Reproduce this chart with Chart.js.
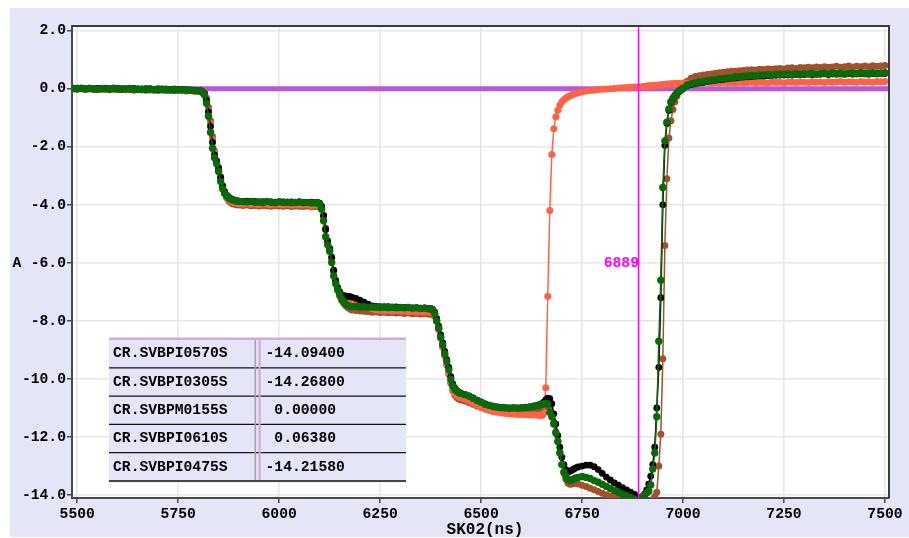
<!DOCTYPE html>
<html><head><meta charset="utf-8">
<script src="https://cdn.jsdelivr.net/npm/chart.js@4/dist/chart.umd.min.js"></script>
<style>html,body{margin:0;padding:0;background:#fff;overflow:hidden}canvas{display:block}</style>
</head><body>
<canvas id="c" width="909" height="538"></canvas>
<script>
// ---- sample times (ns) ----
const times = [
 5490,5500,5510,5520,5530,5540,5550,5560,5570,5580,5590,5600,5610,5620,5630,5640,5650,5660,5670,5680,5690,5700,5710,5720,5730,5740,5750,5760,5770,5780,5790,5800,
 5805,5810,5815,5820,5825,5830,5835,5840,5845,5850,5855,5860,5865,5870,5875,5880,5885,5890,5895,5900,
 5910,5920,5930,5940,5950,5960,5970,5980,5990,6000,6010,6020,6030,6040,6050,6060,6070,6080,6090,
 6095,6100,6105,6110,6115,6120,6125,6130,6135,6140,6145,6150,6155,6160,6165,6170,6175,6180,
 6190,6200,6210,6220,6230,6240,6250,6260,6270,6280,6290,6300,6310,6320,6330,6340,6350,6360,6370,
 6375,6380,6385,6390,6395,6400,6405,6410,6415,6420,6425,6430,6435,6440,6445,6450,
 6460,6470,6480,6490,6500,6510,6520,6530,6540,6550,6560,6570,6580,6590,6600,6610,6620,6630,6640,
 6645,6650,6655,6660,6665,6670,6675,6680,6685,6690,6695,6700,6705,6710,6715,6720,6725,6730,6735,6740,
 6750,6760,6770,6780,6790,6800,6810,6820,6830,6840,6850,6860,6870,6880,6890,6900,
 6905,6910,6915,6920,6925,6930,6935,6940,6945,6950,6955,6960,6965,6970,6975,6980,6985,6990,6995,7000,
 7010,7020,7030,7040,7050,7060,7070,7080,7090,7100,7110,7120,7130,7140,7150,7160,7170,7180,7190,7200,
 7210,7220,7230,7240,7250,7260,7270,7280,7290,7300,7310,7320,7330,7340,7350,7360,7370,7380,7390,7400,
 7410,7420,7430,7440,7450,7460,7470,7480,7490,7500
];

// ---- series (A) ----
const black0570 = [
 0.0,0.02,0.01,0.0,0.02,-0.01,0.01,0.0,0.02,-0.01, 0.0,0.01,-0.02,0.0,-0.01,0.01,-0.02,-0.01,-0.02,0.0, -0.02,-0.03,-0.01,-0.03,-0.02,-0.04,-0.02,-0.04,-0.03,-0.05, -0.05,-0.06,
 -0.07,-0.1,-0.17,-0.4,-0.8,-1.3,-1.85,-2.28,-2.5,-2.72,-3.05,-3.35,-3.55,-3.67,-3.74,-3.79,-3.82,-3.84,-3.86,-3.87,
 -3.88,-3.87,-3.89,-3.88,-3.9,-3.89,-3.88,-3.9,-3.91,-3.89,-3.9,-3.91,-3.9,-3.92,-3.9,-3.91,-3.92,-3.91,-3.92,
 -3.92,-3.94,-4.05,-4.38,-4.85,-5.25,-5.5,-5.8,-6.25,-6.6,-6.85,-7.0,-7.1,-7.13,-7.15,-7.15,-7.16,-7.18,
 -7.22,-7.28,-7.35,-7.42,-7.48,-7.5,-7.51,-7.52,-7.51,-7.53,-7.52,-7.54,-7.53,-7.54,-7.55,-7.54,-7.56,-7.55,-7.57,
 -7.57,-7.6,-7.7,-7.92,-8.18,-8.48,-8.76,-9.05,-9.33,-9.6,-9.92,-10.18,-10.32,-10.4,-10.45,-10.49,
 -10.53,-10.58,-10.65,-10.73,-10.79,-10.86,-10.9,-10.94,-10.96,-10.98,-10.99,-11.0,-10.99,-11.0,-10.99,-10.97,-10.96,-10.93,-10.9,
 -10.88,-10.85,-10.8,-10.72,-10.66,-10.68,-10.85,-11.2,-11.55,-11.95,-12.35,-12.7,-12.95,-13.12,-13.2,-13.18,-13.14,-13.1,-13.06,-13.03,
 -13.0,-12.97,-12.97,-13.02,-13.12,-13.25,-13.38,-13.48,-13.58,-13.66,-13.74,-13.82,-13.9,-13.98,-14.09,-14.05,
 -13.96,-13.82,-13.62,-13.35,-12.95,-12.35,-11.0,-9.6,-7.2,-4.0,-1.95,-1.2,-0.75,-0.48,-0.36,-0.25,-0.16,-0.1,-0.05,0.0,
 0.1,0.14,0.17,0.2,0.22,0.25,0.27,0.29,0.31,0.32, 0.34,0.36,0.37,0.39,0.4,0.41,0.42,0.43,0.44,0.44,
 0.45,0.46,0.46,0.47,0.47,0.48,0.47,0.49,0.48,0.49, 0.5,0.49,0.5,0.5,0.51,0.49,0.51,0.5,0.51,0.5,
 0.52,0.5,0.51,0.52,0.51,0.5,0.52,0.51,0.52,0.52
];
const brown0305 = [
 -0.01,-0.02,0.0,-0.03,-0.01,-0.02,0.0,-0.03,-0.02,-0.04, -0.01,-0.03,-0.02,-0.04,-0.03,-0.05,-0.02,-0.04,-0.05,-0.03, -0.05,-0.06,-0.04,-0.06,-0.05,-0.07,-0.06,-0.07,-0.08,-0.07, -0.09,-0.1,
 -0.1,-0.12,-0.16,-0.32,-0.65,-1.1,-1.65,-2.15,-2.5,-2.78,-3.08,-3.38,-3.6,-3.76,-3.86,-3.92,-3.96,-3.98,-4.0,-4.01,
 -4.02,-4.01,-4.03,-4.02,-4.04,-4.02,-4.03,-4.05,-4.03,-4.04,-4.05,-4.03,-4.06,-4.04,-4.05,-4.06,-4.04,-4.07,-4.06,
 -4.06,-4.07,-4.12,-4.35,-4.8,-5.25,-5.55,-5.85,-6.3,-6.68,-6.95,-7.15,-7.3,-7.4,-7.48,-7.54,-7.58,-7.62,
 -7.64,-7.66,-7.67,-7.68,-7.7,-7.69,-7.71,-7.7,-7.72,-7.71,-7.73,-7.72,-7.74,-7.73,-7.75,-7.74,-7.76,-7.75,-7.76,
 -7.77,-7.78,-7.84,-8.0,-8.28,-8.58,-8.9,-9.2,-9.52,-9.83,-10.15,-10.4,-10.56,-10.64,-10.69,-10.72,
 -10.76,-10.81,-10.87,-10.93,-10.98,-11.03,-11.07,-11.1,-11.12,-11.13,-11.14,-11.15,-11.14,-11.15,-11.14,-11.12,-11.1,-11.08,-11.05,
 -11.03,-11.0,-10.97,-10.95,-10.95,-11.0,-11.2,-11.5,-11.82,-12.15,-12.55,-12.95,-13.25,-13.45,-13.58,-13.63,-13.62,-13.6,-13.6,-13.62,
 -13.66,-13.7,-13.76,-13.82,-13.88,-13.94,-13.99,-14.03,-14.08,-14.12,-14.16,-14.2,-14.23,-14.25,-14.27,-14.28,
 -14.28,-14.27,-14.25,-14.2,-14.15,-14.05,-13.9,-13.0,-11.9,-9.3,-5.4,-3.1,-1.7,-1.1,-0.72,-0.45,-0.25,-0.1,0.02,0.12,
 0.26,0.36,0.42,0.45,0.47,0.49,0.51,0.53,0.55,0.57, 0.58,0.6,0.6,0.62,0.63,0.64,0.65,0.64,0.67,0.66,
 0.68,0.67,0.69,0.7,0.68,0.71,0.72,0.7,0.73,0.72, 0.74,0.72,0.75,0.73,0.76,0.74,0.75,0.77,0.74,0.76,
 0.78,0.75,0.77,0.76,0.78,0.76,0.79,0.77,0.78,0.8
];
const purpleTimes = [5480, 7520];
const purple0155 = [0.0, 0.0];
const orange0610 = [
 0.0,-0.01,0.01,-0.02,0.0,-0.01,-0.03,0.0,-0.02,-0.01, -0.03,0.0,-0.02,-0.04,-0.01,-0.03,-0.02,-0.04,-0.03,-0.05, -0.04,-0.02,-0.05,-0.04,-0.06,-0.04,-0.06,-0.05,-0.07,-0.06, -0.08,-0.09,
 -0.1,-0.12,-0.18,-0.4,-0.75,-1.2,-1.75,-2.2,-2.5,-2.75,-3.05,-3.35,-3.57,-3.72,-3.81,-3.87,-3.9,-3.93,-3.95,-3.96,
 -3.97,-3.96,-3.98,-3.97,-3.99,-3.97,-3.98,-4.0,-3.98,-3.99,-4.0,-3.98,-4.01,-3.99,-4.0,-4.01,-3.99,-4.02,-4.01,
 -4.01,-4.02,-4.1,-4.4,-4.85,-5.3,-5.55,-5.85,-6.3,-6.65,-6.9,-7.05,-7.14,-7.18,-7.2,-7.2,-7.22,-7.25,
 -7.3,-7.37,-7.45,-7.52,-7.58,-7.62,-7.63,-7.65,-7.64,-7.66,-7.65,-7.67,-7.66,-7.68,-7.67,-7.69,-7.68,-7.7,-7.69,
 -7.7,-7.72,-7.8,-8.0,-8.3,-8.6,-8.9,-9.2,-9.5,-9.8,-10.1,-10.35,-10.5,-10.58,-10.62,-10.65,
 -10.7,-10.76,-10.83,-10.9,-10.97,-11.03,-11.08,-11.12,-11.15,-11.17,-11.19,-11.2,-11.21,-11.22,-11.22,-11.23,-11.24,-11.24,-11.25,
 -11.25,-11.26,-11.2,-10.3,-7.15,-4.2,-2.27,-1.38,-0.97,-0.74,-0.57,-0.45,-0.38,-0.32,-0.28,-0.24,-0.21,-0.18,-0.16,-0.14,
 -0.11,-0.08,-0.06,-0.05,-0.03,-0.02,-0.01,0.0,0.01,0.02,0.03,0.04,0.05,0.06,0.064,0.08,
 0.08,0.09,0.1,0.1,0.11,0.12,0.12,0.13,0.14,0.14,0.15,0.16,0.16,0.17,0.17,0.18,0.18,0.19,0.18,0.19,
 0.19,0.2,0.19,0.21,0.2,0.22,0.19,0.21,0.2,0.22, 0.2,0.21,0.19,0.22,0.2,0.21,0.23,0.2,0.22,0.21,
 0.2,0.23,0.21,0.22,0.2,0.23,0.22,0.21,0.23,0.22, 0.21,0.24,0.22,0.23,0.21,0.24,0.22,0.23,0.25,0.22,
 0.24,0.23,0.22,0.25,0.23,0.24,0.22,0.25,0.24,0.25
];
const green0475 = [
 0.01,0.0,0.02,-0.01,0.01,0.0,-0.02,0.01,0.0,-0.01, 0.02,-0.02,0.0,-0.01,0.01,-0.02,-0.01,-0.03,0.0,-0.02, -0.03,-0.01,-0.03,-0.02,-0.04,-0.02,-0.04,-0.03,-0.05,-0.04, -0.06,-0.07,
 -0.08,-0.12,-0.22,-0.5,-0.95,-1.5,-2.05,-2.38,-2.58,-2.85,-3.2,-3.45,-3.6,-3.7,-3.76,-3.8,-3.83,-3.85,-3.87,-3.88,
 -3.89,-3.9,-3.88,-3.91,-3.9,-3.92,-3.89,-3.91,-3.93,-3.9,-3.92,-3.91,-3.93,-3.92,-3.9,-3.93,-3.92,-3.94,-3.93,
 -3.94,-3.97,-4.15,-4.55,-5.1,-5.38,-5.6,-5.99,-6.45,-6.72,-6.92,-7.08,-7.25,-7.34,-7.42,-7.46,-7.49,-7.5,
 -7.5,-7.52,-7.51,-7.53,-7.52,-7.53,-7.54,-7.52,-7.54,-7.53,-7.55,-7.54,-7.55,-7.54,-7.56,-7.55,-7.57,-7.56,-7.58,
 -7.58,-7.62,-7.75,-8.0,-8.25,-8.56,-8.83,-9.12,-9.4,-9.68,-10.02,-10.25,-10.36,-10.42,-10.47,-10.5,
 -10.54,-10.59,-10.66,-10.74,-10.8,-10.87,-10.91,-10.95,-10.97,-10.99,-11.0,-11.01,-11.0,-11.01,-11.0,-10.99,-10.97,-10.95,-10.92,
 -10.9,-10.88,-10.86,-10.84,-10.86,-11.15,-11.3,-11.55,-11.86,-12.15,-12.55,-12.95,-13.2,-13.35,-13.47,-13.5,-13.47,-13.44,-13.41,-13.39,
 -13.36,-13.39,-13.43,-13.5,-13.56,-13.63,-13.7,-13.77,-13.84,-13.9,-13.96,-14.02,-14.08,-14.14,-14.2,-14.05,
 -13.98,-13.93,-13.87,-13.65,-13.1,-12.55,-11.3,-8.7,-6.6,-3.4,-1.8,-1.15,-0.7,-0.45,-0.33,-0.22,-0.14,-0.08,-0.03,0.02,
 0.13,0.17,0.2,0.23,0.25,0.28,0.3,0.31,0.34,0.35, 0.37,0.38,0.41,0.41,0.43,0.44,0.45,0.44,0.47,0.47,
 0.48,0.47,0.5,0.49,0.5,0.51,0.49,0.52,0.5,0.52, 0.51,0.53,0.5,0.52,0.53,0.51,0.54,0.52,0.53,0.51,
 0.54,0.53,0.52,0.55,0.53,0.52,0.55,0.53,0.54,0.55
];

// ---- table / marker / ticks ----
const seriesNames = ['CR.SVBPI0570S','CR.SVBPI0305S','CR.SVBPM0155S','CR.SVBPI0610S','CR.SVBPI0475S'];
const markerValues = [-14.094, -14.268, 0.0, 0.0638, -14.2158];
const markerTime = 6889;
const xTickValues = [5500,5750,6000,6250,6500,6750,7000,7250,7500];
const yTickValues = [2,0,-2,-4,-6,-8,-10,-12,-14];
const xTitle = 'SK02(ns)';
const yTitle = 'A';

const toPts = (ts, vs) => ts.map((t,i)=>({x:t, y:vs[i]}));
const FONT = 'bold 14.7px "Liberation Mono", "DejaVu Sans Mono", monospace';

function series(label, ts, vs, color, order, r, lw){
  return {label, data: toPts(ts, vs), borderColor: color, backgroundColor: color,
    pointBackgroundColor: color, pointBorderWidth: 0, pointRadius: r, borderWidth: lw,
    order, clip: 0, tension: 0};
}

const decor = {
  id: 'decor',
  beforeDraw(chart){
    const {ctx, chartArea:a} = chart;
    ctx.save();
    ctx.fillStyle = '#ffffff'; ctx.fillRect(0,0,chart.width,chart.height);
    ctx.fillStyle = '#e5e5f8'; ctx.fillRect(10,8,chart.width-10,529);
    ctx.fillStyle = '#ffffff'; ctx.fillRect(a.left,a.top,a.right-a.left,a.bottom-a.top);
    ctx.restore();
  },
  afterDatasetsDraw(chart){
    const {ctx, chartArea:a, scales:{x}} = chart;
    const mx = Math.round(x.getPixelForValue(markerTime)) + 0.5;
    ctx.save();
    ctx.strokeStyle = '#ff00ff'; ctx.lineWidth = 1.3;
    ctx.beginPath(); ctx.moveTo(mx, a.top); ctx.lineTo(mx, a.bottom); ctx.stroke();
    ctx.fillStyle = '#ff00ff'; ctx.font = FONT; ctx.textAlign = 'right'; ctx.textBaseline = 'middle';
    ctx.fillText(String(markerTime), mx + 0.5, (a.top + a.bottom)/2 + 1);
    ctx.restore();
  },
  afterDraw(chart){
    const {ctx, chartArea:a} = chart;
    ctx.save();
    ctx.strokeStyle = '#3a3a3a'; ctx.lineWidth = 2;
    ctx.beginPath(); ctx.moveTo(a.left, a.top); ctx.lineTo(a.right, a.top); ctx.lineTo(a.right, a.bottom); ctx.stroke();
    ctx.fillStyle = '#000'; ctx.font = FONT; ctx.textBaseline = 'middle'; ctx.textAlign = 'center';
    ctx.fillText(yTitle, 17, (a.top + a.bottom)/2 + 1);
    ctx.font = 'bold 16px "Liberation Mono", "DejaVu Sans Mono", monospace';
    ctx.fillText(xTitle, 485, 530);
    const L = 109, R = 406, top = 338.5, rowH = 28.3, sepX = 255;
    const rows = seriesNames.length;
    ctx.fillStyle = '#e5e5f8';
    ctx.fillRect(L, top, R - L, 1.5 + rows*rowH + 1);
    ctx.fillStyle = '#d9a6d9'; ctx.fillRect(L, top - 1, R - L, 2.5);
    const y0 = top + 2.5;
    ctx.strokeStyle = '#111'; ctx.lineWidth = 1.3;
    for (let i = 1; i <= rows; i++) {
      const yy = y0 + i*rowH - 1.5;
      ctx.beginPath(); ctx.moveTo(L, yy); ctx.lineTo(R, yy); ctx.stroke();
    }
    ctx.fillStyle = '#a3a3a3'; ctx.fillRect(sepX - 0.5, top + 1.5, 1.6, rows*rowH - 1.5);
    ctx.fillStyle = '#d9a6d9'; ctx.fillRect(sepX + 3.5, top + 1.5, 2.2, rows*rowH - 1.5);
    ctx.fillStyle = '#000'; ctx.font = FONT; ctx.textAlign = 'left'; ctx.textBaseline = 'middle';
    for (let i = 0; i < rows; i++) {
      const cy = y0 + i*rowH + rowH/2 - 1.5;
      ctx.fillText(seriesNames[i], 113, cy);
      const v = markerValues[i];
      const s = (v < 0 ? '' : ' ') + v.toFixed(5);
      ctx.fillText(s, 265.5, cy);
    }
    ctx.restore();
  }
};

new Chart(document.getElementById('c'), {
  type: 'line',
  data: { datasets: [
    series(seriesNames[4], times, green0475, '#0a6a0a', 0, 3.7, 1.5),
    series(seriesNames[0], times, black0570, '#000000', 1, 3.4, 1.5),
    series(seriesNames[3], times, orange0610, '#ff6347', 2, 3.5, 1.5),
    series(seriesNames[1], times, brown0305, '#a0522d', 3, 3.5, 1.5),
    series(seriesNames[2], purpleTimes, purple0155, '#b45ad4', 4, 0, 5)
  ]},
  options: {
    responsive: false, animation: false, events: [],
    layout: { padding: { left: 10, top: 26, right: 20, bottom: 0 } },
    plugins: { legend: { display: false }, tooltip: { enabled: false }, title: { display: false } },
    scales: {
      x: {
        type: 'linear', min: 5487, max: 7510,
        afterBuildTicks: s => { s.ticks = xTickValues.map(v => ({value: v})); },
        afterFit: s => { s.height = 40; s.paddingLeft = 0; s.paddingRight = 0; },
        ticks: { color: '#000', font: { family: '"Liberation Mono", monospace', size: 14.7, weight: 'bold' },
                 padding: 2, maxRotation: 0, autoSkip: false, callback: v => String(v) },
        grid: { color: '#e6e6e6', lineWidth: 1.6, tickColor: '#333', tickLength: 5, tickWidth: 1.3 },
        border: { color: '#4a4a4a', width: 2 }
      },
      y: {
        type: 'linear', min: -14.1, max: 2.16,
        afterBuildTicks: s => { s.ticks = yTickValues.map(v => ({value: v})); },
        afterFit: s => { s.width = 62; s.paddingTop = 0; s.paddingBottom = 0; },
        ticks: { color: '#000', font: { family: '"Liberation Mono", monospace', size: 14.7, weight: 'bold' },
                 padding: 1, callback: v => Number(v).toFixed(1) },
        grid: { color: '#e6e6e6', lineWidth: 1.6, tickColor: '#333', tickLength: 5, tickWidth: 1.3 },
        border: { color: '#4a4a4a', width: 2 }
      }
    }
  },
  plugins: [decor]
});
</script>
</body></html>
